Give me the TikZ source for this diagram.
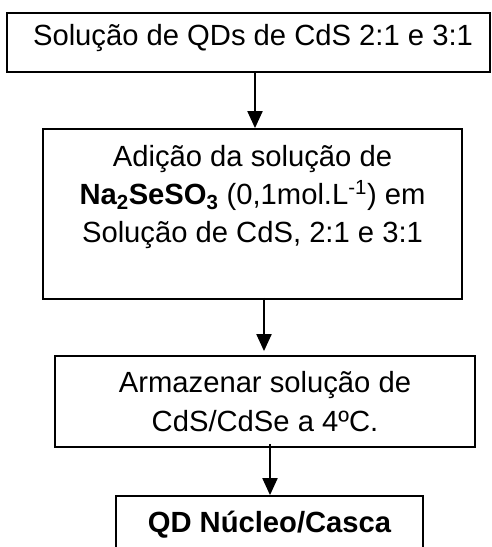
\documentclass[tikz,border=0pt]{standalone}
\usepackage{fontspec}
\setmainfont{Liberation Sans}
\usetikzlibrary{arrows.meta}

\tikzset{
  box/.style={draw=black, line width=1.8pt, rectangle, inner sep=0pt},
  txt/.style={anchor=base, inner sep=0pt,
    font=\fontsize{29.2}{38}\selectfont},
  arr/.style={draw=black, line width=2pt,
    -{Triangle[width=15pt,length=17pt]}}
}

\begin{document}
\begin{tikzpicture}[x=1pt, y=-1pt]
  \clip (0,0) rectangle (491,547);
  \useasboundingbox (0,0) rectangle (491,547);
  \fill[white] (0,0) rectangle (491,547);

  % frames of the four steps
  \node[box, minimum width=483pt, minimum height=59pt]  (b1) at (248.5,42.5) {};
  \node[box, minimum width=419pt, minimum height=170pt] (b2) at (252.5,214) {};
  \node[box, minimum width=420pt, minimum height=91pt]  (b3) at (265,401.5) {};
  \node[box, minimum width=307pt, minimum height=70pt]  (b4) at (269.5,531) {};

  % texts
  \node[txt] (t1) at (253,45) {Solução de QDs de CdS 2:1 e 3:1};

  \node[txt] (t2a) at (252.5,166) {Adição da solução de};
  \node[txt] (t2b) at (252.5,204)
    {\textbf{Na\textsubscript{2}SeSO\textsubscript{3}} (0,1mol.L\textsuperscript{-1}) em};
  \node[txt] (t2c) at (252.5,242) {Solução de CdS, 2:1 e 3:1};

  \node[txt] (t3a) at (265,392) {Armazenar solução de};
  \node[txt] (t3b) at (265,431) {CdS/CdSe a 4ºC.};

  \node[txt, font=\fontsize{29.2}{38}\selectfont\bfseries] (t4) at (269.5,532) {QD Núcleo/Casca};

  % connectors between the steps
  \draw[arr] ([xshift=6.5pt]b1.south) -- ([xshift=2.5pt]b2.north);
  \draw[arr, shorten <=-2pt, shorten >=4pt] ([xshift=11.5pt]b2.south) -- ([xshift=-1pt]b3.north);
  \draw[arr, shorten <=-4pt] ([xshift=5pt]b3.south) -- ([xshift=0.5pt]b4.north);
\end{tikzpicture}
\end{document}
